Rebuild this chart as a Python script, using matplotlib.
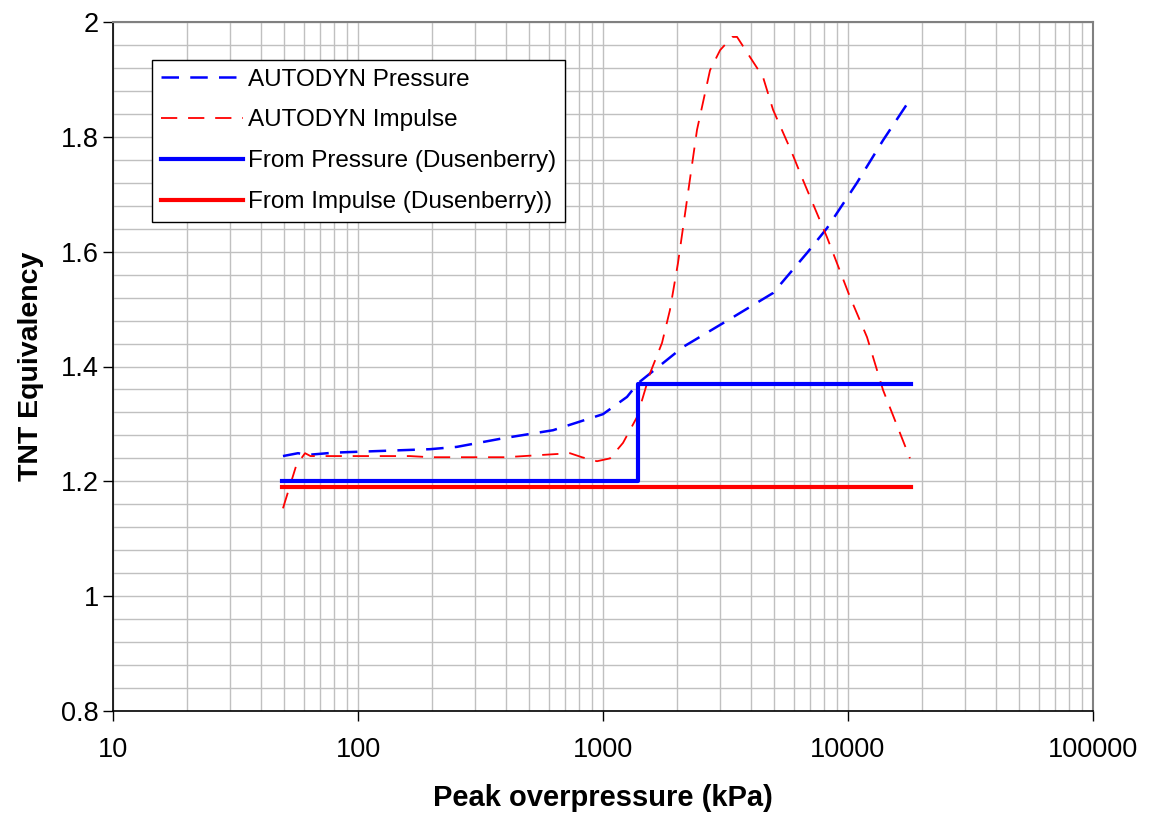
import matplotlib
matplotlib.use("Agg")
import matplotlib.pyplot as plt
from matplotlib.ticker import MultipleLocator, FixedLocator, LogLocator, NullFormatter

plt.rcParams['font.family'] = ['Liberation Sans', 'DejaVu Sans']

# AUTODYN Pressure (dashed blue)
p_x = [49.4, 56.9, 62, 80, 197, 253, 391, 625, 1000, 1253, 1390, 2122, 3397, 4945, 6810, 8210, 10880, 13900, 18240]
p_y = [1.244, 1.249, 1.246, 1.250, 1.256, 1.260, 1.275, 1.289, 1.317, 1.347, 1.371, 1.434, 1.486, 1.528, 1.598, 1.641, 1.720, 1.794, 1.870]

# AUTODYN Impulse (dashed red)
i_x = [49.4, 56, 60.8, 64, 163, 197, 400, 733, 820, 945, 1068, 1207, 1377, 1555, 1741, 1875, 2023, 2202, 2419,
       2734, 3006, 3366, 3525, 3981, 4500, 4945, 5907, 6546, 8210, 10190, 11960, 13900, 17900]
i_y = [1.153, 1.228, 1.249, 1.244, 1.244, 1.242, 1.242, 1.249, 1.242, 1.235, 1.240, 1.267, 1.312, 1.388, 1.441, 1.498,
       1.580, 1.690, 1.812, 1.916, 1.951, 1.974, 1.974, 1.939, 1.904, 1.847, 1.772, 1.725, 1.625, 1.521, 1.451, 1.359, 1.240]

# From Pressure (Dusenberry) - step
dp_x = [49, 1390, 18000]
dp_y = [1.20, 1.37, 1.37]

# From Impulse (Dusenberry)
di_x = [49, 18000]
di_y = [1.19, 1.19]

fig = plt.figure(figsize=(11.49, 8.17), dpi=100)
ax = fig.add_axes([113/1149, 1-711/817, (1093-113)/1149, (711-22)/817])

ax.plot(p_x, p_y, color='#0000ff', lw=1.8, dashes=(7, 4.5), label='AUTODYN Pressure')
ax.plot(i_x, i_y, color='#ff0000', lw=1.3, dashes=(9, 6), label='AUTODYN Impulse')
ax.plot(dp_x, dp_y, color='#0000ff', lw=3, drawstyle='steps-post', label='From Pressure (Dusenberry)')
ax.plot(di_x, di_y, color='#ff0000', lw=3, label='From Impulse (Dusenberry))')

ax.set_xscale('log')
ax.set_xlim(10, 100000)
ax.set_ylim(0.8, 2.0)
ax.xaxis.set_major_locator(FixedLocator([10, 100, 1000, 10000, 100000]))
ax.set_xticklabels(['10', '100', '1000', '10000', '100000'])
ax.xaxis.set_minor_locator(LogLocator(base=10, subs=range(2, 10)))
ax.xaxis.set_minor_formatter(NullFormatter())
ax.yaxis.set_major_locator(MultipleLocator(0.2))
ax.yaxis.set_minor_locator(MultipleLocator(0.04))
ax.set_yticks([0.8, 1.0, 1.2, 1.4, 1.6, 1.8, 2.0])
ax.set_yticklabels(['0.8', '1', '1.2', '1.4', '1.6', '1.8', '2'])

ax.grid(True, which='both', color='#c0c0c0', lw=1)
ax.set_axisbelow(True)
ax.tick_params(which='major', direction='out', length=7, width=1, labelsize=19.5, color='black')
ax.tick_params(which='minor', length=0)
ax.tick_params(axis='x', pad=12)
ax.tick_params(axis='y', pad=3)

for s in ['top', 'right']:
    ax.spines[s].set_color('#808080')
    ax.spines[s].set_linewidth(1.5)
for s in ['left', 'bottom']:
    ax.spines[s].set_color('black')
    ax.spines[s].set_linewidth(1.2)

ax.set_xlabel('Peak overpressure (kPa)', fontsize=21, fontweight='bold', labelpad=15)
ax.set_ylabel('TNT Equivalency', fontsize=20.5, fontweight='bold', labelpad=12)

leg = ax.legend(loc='upper left', bbox_to_anchor=((152-113)/980, (711-60)/689), fontsize=17.5,
                frameon=True, fancybox=False, edgecolor='black', framealpha=1,
                handlelength=3.4, handletextpad=0.2, labelspacing=0.78, borderpad=0.35, borderaxespad=0)
leg.get_frame().set_linewidth(1.0)

fig.savefig('out.png', dpi=100)
